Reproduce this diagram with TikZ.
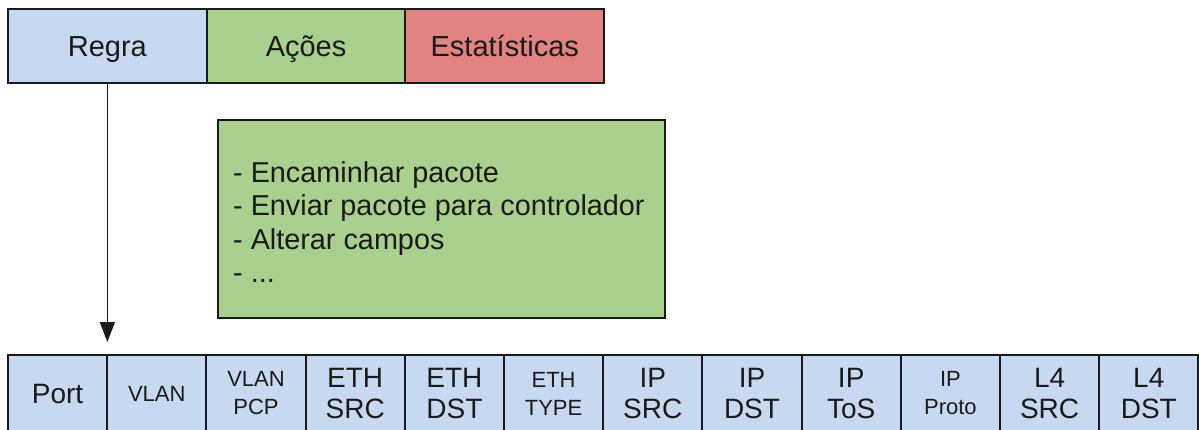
\documentclass[tikz,border=0pt]{standalone}
\usepackage{fontspec}
\setmainfont{Liberation Sans}
\usetikzlibrary{arrows.meta}
\definecolor{cblue}{HTML}{C6D9F1}
\definecolor{cgreen}{HTML}{A9D08E}
\definecolor{cred}{HTML}{E28383}
\definecolor{edgec}{HTML}{1A1A1A}
\begin{document}
\begin{tikzpicture}[x=1pt,y=-1pt,
  box/.style={draw=edgec, line width=2pt, inner sep=0pt, outer sep=0pt, anchor=north west, align=center, text=edgec},
  topbox/.style={box, minimum width=198.7pt, minimum height=74pt, text height=25pt, text depth=5pt, font=\fontsize{29}{32}\selectfont},
  field/.style={box, fill=cblue, minimum width=99.2pt, minimum height=77pt},
  big/.style={font=\fontsize{28}{31}\selectfont},
  small/.style={font=\fontsize{22}{28}\selectfont},
  listtext/.style={anchor=west, align=left, inner sep=0pt, text=edgec, font=\fontsize{28.8}{33.2}\selectfont},
  arr/.style={draw=edgec, line width=1.6pt, -{Triangle[length=20pt,width=15pt]}}]
\clip (0,0) rectangle (1199,429);
\fill[white] (0,0) rectangle (1199,429);
% top row
\node[topbox, fill=cblue] (regra) at (8,9) {Regra};
\node[topbox, fill=cgreen] (acoes) at (206.7,9) {Ações};
\node[topbox, fill=cred] (estat) at (405.4,9) {Estatísticas};
% actions box
\node[box, fill=cgreen, minimum width=447pt, minimum height=198pt] (lista) at (218,120) {};
\node[listtext] (listatxt) at ([xshift=15pt, yshift=-3pt]lista.west)
  {- Encaminhar pacote\\- Enviar pacote para controlador\\- Alterar campos\\- ...};
% bottom row
\node[field, big] (port) at (8,355) {Port};
\node[field, small] (vlan) at (107.2,355) {VLAN};
\node[field, small] (pcp) at (206.4,355) {VLAN\\PCP};
\node[field, big] (ethsrc) at (305.6,355) {ETH\\SRC};
\node[field, big] (ethdst) at (404.8,355) {ETH\\DST};
\node[field, small] (ethtype) at (504,355) {ETH\\TYPE};
\node[field, big] (ipsrc) at (603.2,355) {IP\\SRC};
\node[field, big] (ipdst) at (702.4,355) {IP\\DST};
\node[field, big] (iptos) at (801.6,355) {IP\\ToS};
\node[field, small] (ipproto) at (900.8,355) {IP\\Proto};
\node[field, big] (l4src) at (1000,355) {L4\\SRC};
\node[field, big] (l4dst) at (1099.2,355) {L4\\DST};
% arrow
\draw[arr, shorten >=13pt] (regra.south) -- (regra.south |- port.north);
\end{tikzpicture}
\end{document}
